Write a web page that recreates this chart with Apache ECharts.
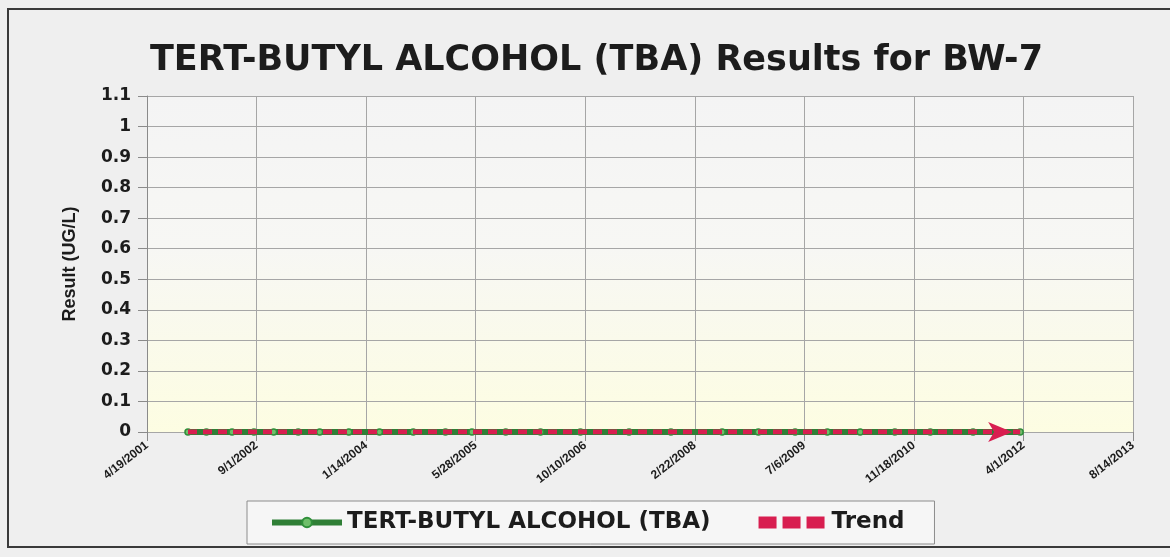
<!DOCTYPE html>
<html lang="en">
<head>
	<meta charset="UTF-8" />
	<title>TBA Results for BW-7</title>
	<script src="https://cdn.jsdelivr.net/npm/echarts@6/dist/echarts.min.js"></script>
	<style>
		html, body { margin: 0; padding: 0; background: #efefef; }
		#main { width: 1170px; height: 557px; }
	</style>
</head>
<body>

<div id="main"></div>

<script>
	// sample dates and results (all non-detect, plotted at 0)
	var sampleDates = ['10/23/2001', '1/15/2002', '5/12/2002', '8/20/2002', '11/18/2002', '3/10/2003',
		'6/16/2003', '10/27/2003', '3/15/2004', '8/16/2004', '1/10/2005', '5/11/2005', '10/12/2005',
		'3/20/2006', '9/18/2006', '4/28/2007', '11/5/2007', '6/26/2008', '12/8/2008', '5/25/2009',
		'10/19/2009', '3/18/2010', '8/23/2010', '2/1/2011', '8/15/2011', '3/17/2012'];
	var tbaValues = [0, 0, 0, 0, 0, 0, 0, 0, 0, 0, 0, 0, 0, 0, 0, 0, 0, 0, 0, 0, 0, 0, 0, 0, 0, 0];

	// trend line end points
	var trendDates = ['10/23/2001', '3/17/2012'];
	var trendValues = [0, 0];

	// x axis: first tick date, tick step in days
	var axisStart = '4/19/2001';
	var tickDays = 500;
	var tickCount = 9;

	var yTicks = [0, 0.1, 0.2, 0.3, 0.4, 0.5, 0.6, 0.7, 0.8, 0.9, 1, 1.1];

	function toUTC(s) {
		var p = s.split('/');
		return Date.UTC(+p[2], +p[0] - 1, +p[1]);
	}
	var base = toUTC(axisStart);
	function dayOf(s) { return Math.round((toUTC(s) - base) / 86400000); }
	function dayLabel(v) {
		var d = new Date(base + v * 86400000);
		return (d.getUTCMonth() + 1) + '/' + d.getUTCDate() + '/' + d.getUTCFullYear();
	}

	var tbaData = sampleDates.map(function (s, i) { return [dayOf(s), tbaValues[i]]; });
	var trendData = trendDates.map(function (s, i) {
		var item = { value: [dayOf(s), trendValues[i]] };
		if (i === trendDates.length - 1) {
			item.symbol = 'arrow';
			item.symbolSize = [15, 24];
			item.symbolRotate = -90;
			item.symbolOffset = [-8, 0];
		}
		return item;
	});

	var mychart = echarts.init(document.getElementById('main'));
	mychart.setOption({
		backgroundColor: '#efefef',
		animation: false,
		title: {
			text: 'TERT-BUTYL ALCOHOL (TBA) Results for BW-7',
			left: 145,
			top: 38,
			textStyle: { fontFamily: 'DejaVu Sans', fontWeight: 'bold', fontSize: 35, color: '#1c1c1c' }
		},
		graphic: [{
			type: 'rect',
			shape: { x: 8, y: 9, width: 1170, height: 538 },
			style: { fill: 'none', stroke: '#3a3a3a', lineWidth: 2 },
			silent: true
		}],
		grid: {
			left: 147, right: 37, top: 96, bottom: 125,
			show: true,
			borderWidth: 0,
			backgroundColor: {
				type: 'linear', x: 0, y: 0, x2: 0, y2: 1,
				colorStops: [
					{ offset: 0, color: '#f4f4f4' },
					{ offset: 0.45, color: '#f7f7f4' },
					{ offset: 1, color: '#fdfde2' }
				]
			}
		},
		legend: {
			left: 247,
			top: 501,
			padding: [10, 30, 10, 22],
			itemGap: 48,
			itemWidth: 70,
			itemHeight: 12,
			borderColor: '#8c8c8c',
			borderWidth: 1,
			backgroundColor: '#f6f6f6',
			lineStyle: { width: 6 },
			textStyle: { fontFamily: 'DejaVu Sans', fontWeight: 'bold', fontSize: 23, color: '#1c1c1c' },
			data: [
				{ name: 'TERT-BUTYL ALCOHOL (TBA)' },
				{ name: 'Trend', icon: 'path://M0,0h9v6h-9zM12,0h9v6h-9zM24,0h9v6h-9z' }
			]
		},
		xAxis: {
			type: 'value',
			min: 0,
			max: tickDays * tickCount,
			interval: tickDays,
			axisLine: { show: false },
			axisTick: { show: true, length: 9, lineStyle: { color: '#8a8a8a' } },
			splitLine: { show: true, lineStyle: { color: '#a6a6a6', width: 1 } },
			axisLabel: {
				rotate: 38,
				margin: 12,
				formatter: dayLabel,
				fontFamily: 'Liberation Sans',
				fontWeight: 'bold',
				fontSize: 12,
				color: '#1c1c1c'
			}
		},
		yAxis: {
			type: 'value',
			min: yTicks[0],
			max: yTicks[yTicks.length - 1],
			interval: 0.1,
			name: 'Result (UG/L)',
			nameLocation: 'middle',
			nameGap: 68,
			nameTextStyle: { fontFamily: 'Liberation Sans', fontWeight: 'bold', fontSize: 18, color: '#1c1c1c' },
			axisLine: { show: true, lineStyle: { color: '#8a8a8a' } },
			axisTick: { show: true, length: 9, lineStyle: { color: '#8a8a8a' } },
			splitLine: { show: true, lineStyle: { color: '#a6a6a6', width: 1 } },
			axisLabel: {
				margin: 16,
				fontFamily: 'DejaVu Sans',
				fontWeight: 'bold',
				fontSize: 17,
				color: '#1c1c1c'
			}
		},
		series: [
			{
				name: 'TERT-BUTYL ALCOHOL (TBA)',
				type: 'line',
				data: tbaData,
				symbol: 'circle',
				symbolSize: 6,
				itemStyle: { color: '#6fbf6a', borderColor: '#2f8f3a', borderWidth: 1.5 },
				lineStyle: { color: '#2f7f36', width: 6 },
				z: 2
			},
			{
				name: 'Trend',
				type: 'line',
				data: trendData,
				symbol: 'none',
				itemStyle: { color: '#d81e50' },
				lineStyle: { color: '#d81e50', width: 5, type: [9, 6] },
				z: 3
			}
		]
	});
</script>

</body>
</html>
